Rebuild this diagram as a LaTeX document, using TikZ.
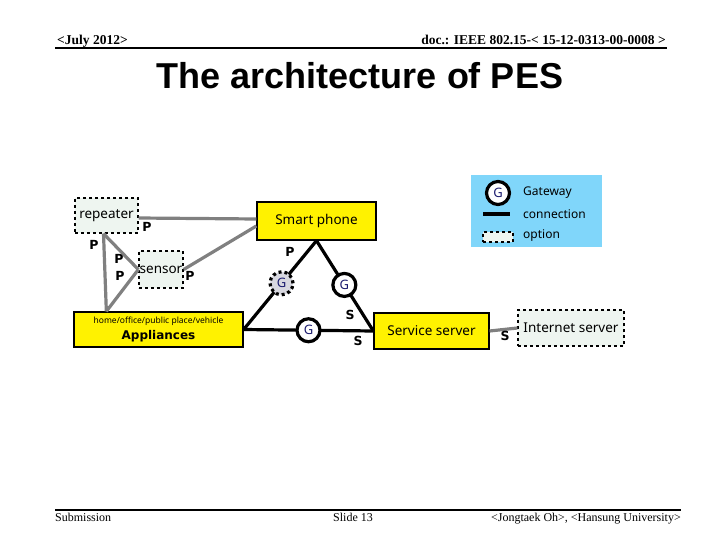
\documentclass[tikz,border=0pt]{standalone}
\usepackage{fontspec}
\setmainfont{Liberation Serif}
\newfontfamily\titlefont{Liberation Sans}
\newfontfamily\boxfont{Noto Sans}
\newfontfamily\labfont{DejaVu Sans}
\usetikzlibrary{calc}
\definecolor{optfill}{HTML}{EEF5F0}
\definecolor{legfill}{HTML}{80D6FA}
\definecolor{grayline}{HTML}{808080}
\definecolor{gtext}{HTML}{1A1A6E}
\definecolor{gdashfill}{HTML}{D8D8E0}
\tikzset{
  optbox/.style={draw=black, dashed, line width=1.3pt, fill=optfill, inner sep=0pt, font=\boxfont\fontsize{13.5}{15}\selectfont},
  ybox/.style={draw=black, line width=1.3pt, fill=yellow, inner sep=0pt, font=\boxfont\fontsize{13.5}{15}\selectfont},
  gl/.style={draw=grayline, line width=3.2pt},
  bl/.style={draw=black, line width=3.2pt},
  gnode/.style={circle, draw=black, solid, line width=3.2pt, fill=white, minimum size=23pt, inner sep=0pt, text=gtext, font=\boxfont\fontsize{13}{14}\selectfont},
  gdash/.style={gnode, dashed, fill=gdashfill},
  lab/.style={font=\labfont\bfseries\fontsize{12.5}{14}\selectfont, inner sep=0pt},
  legtxt/.style={font=\boxfont\fontsize{12}{13}\selectfont, anchor=west, inner sep=0pt},
}
\begin{document}
\begin{tikzpicture}[x=1pt,y=-1pt]
\useasboundingbox (0,0) rectangle (720,540);
% header
\node[anchor=base west, inner sep=0pt, font=\bfseries\fontsize{13.5}{15}\selectfont] (hl) at (57,45) {<July 2012>};
\node[anchor=base east, inner sep=0pt, font=\bfseries\fontsize{13.5}{15}\selectfont] (hr) at (666,45) {doc.: IEEE 802.15-< 15-12-0313-00-0008 >};
\draw[line width=1.5pt] (55,48) -- (667,48);
\node[font=\titlefont\bfseries\fontsize{36}{40}\selectfont, inner sep=0pt] (title) at (360,76) {The architecture of PES};
% footer
\draw[line width=1.5pt] (55,510) -- (681,510);
\node[anchor=base west, inner sep=0pt, font=\fontsize{12}{14}\selectfont] (f1) at (55,521) {Submission};
\node[anchor=base, inner sep=0pt, font=\fontsize{12}{14}\selectfont] (f2) at (353,521) {Slide 13};
\node[anchor=base east, inner sep=0pt, font=\fontsize{12}{14}\selectfont] (f3) at (681,521) {<Jongtaek Oh>, <Hansung University>};
% legend
\node[fill=legfill, minimum width=131pt, minimum height=72pt, inner sep=0pt] (leg) at (536,211) {};
\node[gnode] (legG) at (498,193) {G};
\node[legtxt] (legt1) at (523,193) {Gateway};
\draw[line width=3.2pt] (483,214) -- (510,214);
\node[legtxt] (legt2) at (523,214) {connection};
\node[draw=black, dashed, line width=1.3pt, fill=optfill, minimum width=30pt, minimum height=10pt, inner sep=0pt] (legopt) at (498,237) {};
\node[legtxt] (legt3) at (523,236) {option};
% boxes
\node[optbox, minimum width=63pt, minimum height=35pt] (rep) at (106.5,215.5) {repeater};
\node[optbox, minimum width=44pt, minimum height=37pt] (sen) at (161,269.5) {sensor};
\node[ybox, minimum width=169pt, minimum height=35pt, align=center] (app) at (158.5,329.5) {{\fontsize{8.5}{10}\selectfont home/office/public place/vehicle}\\[1pt] {\labfont\bfseries\fontsize{12}{14}\selectfont Appliances}};
\node[ybox, minimum width=119pt, minimum height=38pt] (phone) at (316.5,221) {Smart phone};
\node[ybox, minimum width=115pt, minimum height=36pt] (serv) at (431.5,331) {Service server};
\node[optbox, minimum width=106pt, minimum height=36pt] (inet) at (571,328) {Internet server};
% gray connections
\draw[gl] ($(rep.east)+(0,2.5)$) -- ($(phone.west)+(0,-2)$);
\draw[gl] (sen.east) -- ($(phone.west)+(0,5)$);
\draw[gl] ($(rep.south)+(-3,0)$) -- (sen.west);
\draw[gl] ($(rep.south)+(-3,0)$) -- ($(app.north west)+(33,0)$);
\draw[gl] ($(app.north west)+(33,0)$) -- (sen.west);
\draw[gl] (serv.east) -- ($(inet.west)+(0,0)$);
% triangle
\draw[bl] (app.east) -- node[gdash, pos=0.52] (g1) {G} (phone.south);
\draw[bl] (phone.south) -- node[gnode, pos=0.49] (g2) {G} (serv.west);
\draw[bl] (app.east) -- node[gnode, pos=0.5] (g3) {G} (serv.west);
% labels
\node[lab] (p1) at (147,227) {P};
\node[lab] (p2) at (94,245) {P};
\node[lab] (p3) at (119,259) {P};
\node[lab] (p4) at (120,276) {P};
\node[lab] (p5) at (190,276) {P};
\node[lab] (p6) at (290,252) {P};
\node[lab] (s1) at (350,315) {S};
\node[lab] (s2) at (358,341) {S};
\node[lab] (s3) at (505,336) {S};
\end{tikzpicture}
\end{document}
